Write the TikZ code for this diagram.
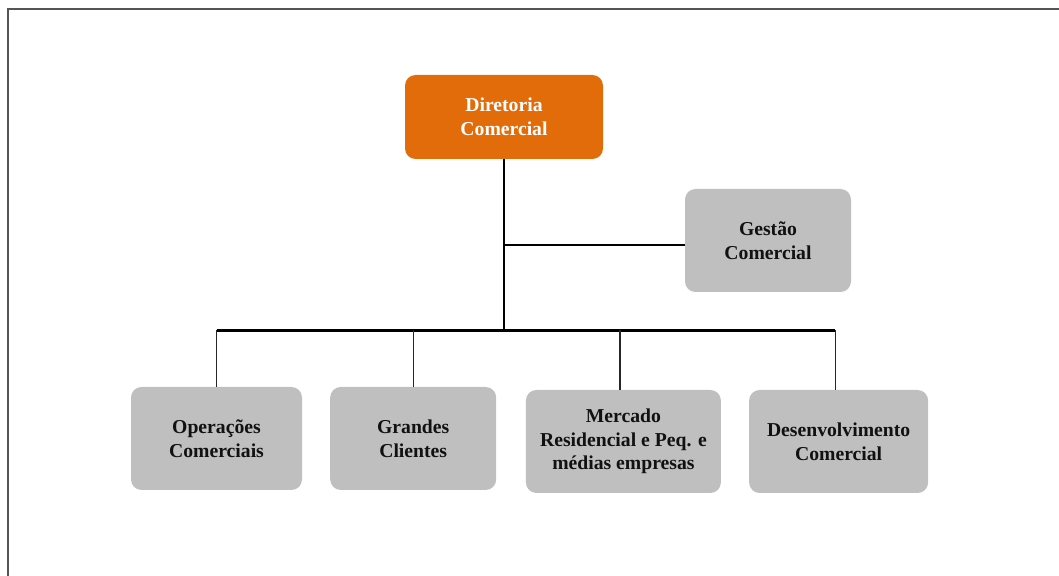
\documentclass[tikz,border=0pt]{standalone}
\usepackage{fontspec}
\setmainfont{Liberation Serif}
\usepackage{xcolor}
\usetikzlibrary{calc,positioning}
\definecolor{ink}{HTML}{111111}
\definecolor{orange}{HTML}{E36C0A}
\definecolor{unit}{HTML}{BFBFBF}
\definecolor{frame}{HTML}{555555}
\tikzset{
  box/.style={rounded corners=6pt,draw=none,inner sep=3pt,align=center,
              font=\bfseries\fontsize{11.2}{13.5}\selectfont},
  headbox/.style={box,fill=orange,text=white,minimum width=3.96cm,minimum height=1.68cm},
  unitbox/.style={box,fill=unit,text=ink,minimum height=2.06cm},
  trunk/.style={line width=1.4pt,draw=black},
  drop/.style={line width=0.7pt,draw=black!85}
}

\begin{document}
\begin{tikzpicture}[node distance=0.55cm]
    \useasboundingbox (0,0) rectangle (21.18,11.52);
    \clip (0,0) rectangle (21.18,11.52);
    \draw[frame,line width=0.9pt] (0.16,-1) rectangle (22,11.34);
    % topo
    \node[headbox] (dir) at (10.08,9.18) {Diretoria\\Comercial};
    \node[unitbox,minimum width=3.32cm] (gest) at (15.36,6.71) {Gestão\\Comercial};
    % subdivisoes
    \node[unitbox,minimum width=3.42cm] (oper) at (4.33,2.75) {Operações\\Comerciais};
    \node[unitbox,minimum width=3.32cm,right=of oper] (grand) {Grandes\\Clientes};
    \node[unitbox,minimum width=3.9cm,right=0.58cm of grand,yshift=-0.06cm] (merc) {Mercado\\Residencial e Peq. e\\médias empresas};
    \node[unitbox,minimum width=3.58cm,right=of merc] (desenv) {Desenvolvimento\\Comercial};
    \coordinate (bus) at ($(dir.south)+(0,-3.42)$);
    \draw[trunk] (dir.south) -- (bus);
    \draw[trunk] ($(dir.south |- gest.west)+(0,-0.09)$) -- ($(gest.west)+(0,-0.09)$);
    \draw[trunk] (oper.north |- bus) -- ($(desenv.north |- bus)+(-0.07,0)$);
    \draw[drop] (oper.north |- bus) -- (oper.north);
    \draw[drop] (grand.north |- bus) -- (grand.north);
    \draw[drop] ($(merc.north |- bus)+(-0.07,0)$) -- ($(merc.north)+(-0.07,0)$);
    \draw[drop] ($(desenv.north |- bus)+(-0.07,0)$) -- ($(desenv.north)+(-0.07,0)$);
  \end{tikzpicture}
\end{document}
